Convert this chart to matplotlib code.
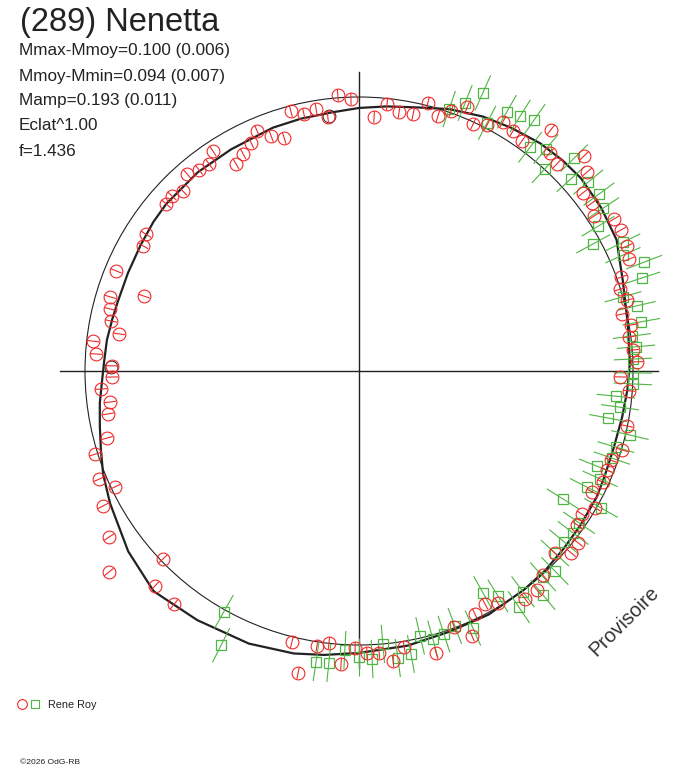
"""
Polar lightcurve of (289) Nenetta, redrawn from the reference picture.
Angles are in degrees (counter-clockwise from the right), radii are
relative to the reference circle.
"""

import numpy as np
import matplotlib
matplotlib.use("Agg")
import matplotlib.pyplot as plt
from matplotlib.patches import Circle
from matplotlib.collections import LineCollection

plt.rcParams['font.family'] = ['Liberation Sans', 'DejaVu Sans']

W, H = 688, 768
CX, CY = 359, 371      # pixel position of the origin
SCALE = 274            # pixels per unit radius

# fitted curve
curve_ang = [1.7, 10, 19, 27, 34, 41, 46, 51.5, 58, 64, 71, 77.6, 84, 90, 96,
             103, 109.5, 115, 120, 129, 139, 144, 150, 157, 164, 168, 173, 178,
             182, 187, 192, 197, 202, 208, 218, 227, 237, 248, 257, 263, 270,
             280, 289, 298, 307, 313, 319, 325, 332, 337, 343, 350, 356]
curve_r = [0.989, 0.996, 1.018, 1.055, 1.066, 1.073, 1.069, 1.062, 1.047, 1.033,
           1.011, 0.985, 0.971, 0.960, 0.949, 0.945, 0.942, 0.934, 0.934, 0.934,
           0.931, 0.927, 0.920, 0.916, 0.916, 0.920, 0.927, 0.931, 0.938, 0.953,
           0.967, 0.985, 1.007, 1.029, 1.069, 1.099, 1.084, 1.073, 1.058, 1.044,
           1.029, 1.018, 1.007, 1.007, 1.000, 0.996, 0.989, 0.985, 0.982, 0.975,
           0.971, 0.975, 0.982]

# observer 1 (red circles)
red_ang = [113.0, 110.5, 107.8, 104.7, 102.1, 99.3, 97.0, 94.4, 91.7, 86.6,
           84.0, 81.2, 78.1, 75.6, 72.8, 70.5, 67.7, 65.2, 62.5, 60.0,
           57.3, 54.7, 51.5, 48.8, 46.3, 43.7, 41.1, 38.5, 35.8, 33.4,
           30.8, 28.3, 25.0, 22.5, 19.7, 17.4, 14.8, 12.2, 9.6, 7.2,
           4.4, 1.9, -1.3, -4.2, -11.6, -16.7, -19.5, -21.8, -24.5, -27.4,
           -30.1, -32.7, -35.2, -38.1, -40.6, -42.9, -48.0, -50.9, -53.9, -59.1,
           -61.6, -64.5, -66.9, -69.6, -74.7, -80.7, -83.3, -85.9, -88.4, -90.8,
           -93.5, -96.3, -98.7, -101.4, -103.9,
           115.3, 118.1, 120.7, 123.6, 125.9, 128.5, 131.1, 134.4, 136.9, 139.1,
           147.3, 149.9, 157.6, 160.8, 163.4, 166.0, 168.6, 171.2, 173.6, 176.3,
           178.8, 181.4, 184.0, 187.1, 189.7, 194.9, 197.5, 202.6, 205.4, 207.8,
           213.6, 218.8, 223.8, 226.5, 231.6]
red_r = [0.952, 0.916, 0.893, 0.981, 0.959, 0.969, 0.934, 1.010, 0.993, 0.929,
         0.980, 0.957, 0.958, 1.010, 0.974, 1.007, 1.041, 0.993, 1.012, 1.050,
         1.041, 1.029, 1.125, 1.058, 1.045, 1.136, 1.105, 1.044, 1.048, 1.027,
         1.083, 1.086, 1.079, 1.067, 1.016, 0.998, 1.012, 0.982, 1.007, 0.993,
         1.003, 1.015, 0.953, 0.988, 0.998, 1.002, 0.975, 0.975, 0.978, 0.958,
         0.996, 0.967, 0.974, 1.016, 1.020, 0.976, 1.003, 1.030, 1.029, 0.987,
         0.967, 0.983, 1.051, 0.997, 1.067, 1.021, 1.066, 1.032, 1.030, 1.011,
         1.071, 0.999, 1.015, 1.124, 1.019,
         0.921, 0.898, 0.879, 0.964, 0.933, 0.938, 0.954, 0.919, 0.935, 0.931,
         0.924, 0.911, 0.959, 0.831, 0.948, 0.937, 0.923, 0.886, 0.977, 0.962,
         0.902, 0.902, 0.944, 0.916, 0.929, 0.952, 1.010, 1.027, 0.986, 1.056,
         1.095, 1.171, 0.991, 1.082, 1.086]
red_err = 0.022

# observer 2 (green squares)
green_ang = [71.0, 68.4, 66.0, 62.7, 60.3, 57.7, 55.1, 52.6, 49.9, 47.4,
             44.7, 42.2, 39.5, 36.4, 33.7, 31.2, 28.5, 26.0, 23.7, 20.9,
             18.2, 15.7, 13.2, 9.9, 7.3, 5.0, 2.5, -0.4, -2.7, -5.6,
             -7.9, -10.7, -13.3, -16.5, -19.0, -21.8, -24.1, -27.0, -32.1, -29.5,
             -34.6, -37.1, -39.8, -42.9, -45.6, -48.2, -53.4, -50.6, -58.3, -60.8,
             -55.9, -98.4, -95.9, -92.9, -90.0, -87.4, -85.0, -82.3, -79.6, -77.0,
             -74.6, -72.1, -69.4, -66.1, -119.3, -116.7]
green_r = [1.011, 1.052, 1.111, 1.019, 1.089, 1.101, 1.117, 1.028, 1.059, 1.002,
           1.105, 1.044, 1.084, 1.088, 1.071, 1.020, 0.972, 1.072, 1.052, 1.114,
           1.087, 1.001, 1.042, 1.045, 1.004, 1.015, 1.001, 1.000, 1.001, 0.942,
           0.962, 0.925, 1.016, 0.978, 0.976, 0.935, 0.964, 0.934, 0.879, 1.015,
           0.976, 0.980, 0.974, 0.976, 1.022, 1.008, 1.004, 1.058, 0.965, 0.928,
           1.041, 1.074, 1.071, 1.020, 1.044, 1.052, 1.000, 1.057, 1.050, 0.992,
           1.015, 1.009, 0.994, 1.026, 1.008, 1.120]
green_err = 0.07

# a couple of black points
black_ang = [96.7, 179.0]
black_r = [0.937, 0.905]

RED = '#ee2a2a'
GREEN = '#4fb543'
INK = '#222222'


def to_xy(ang, r):
    a = np.radians(ang)
    r = np.asarray(r)
    return r * np.cos(a), r * np.sin(a)


def radial_segments(ang, r, err):
    a = np.radians(ang)
    r = np.asarray(r)
    x0, y0 = (r - err) * np.cos(a), (r - err) * np.sin(a)
    x1, y1 = (r + err) * np.cos(a), (r + err) * np.sin(a)
    return [[(p, q), (s, t)] for p, q, s, t in zip(x0, y0, x1, y1)]


fig = plt.figure(figsize=(W / 100, H / 100), dpi=100)
ax = fig.add_axes([0, 0, 1, 1])
ax.set_xlim(-CX / SCALE, (W - CX) / SCALE)
ax.set_ylim(-(H - CY) / SCALE, CY / SCALE)
ax.set_aspect('equal')
ax.axis('off')

# cross and reference circle
ax.plot([-1.09, 1.09], [0, 0], color=INK, lw=1.0)
ax.plot([0, 0], [-1.085, 1.09], color=INK, lw=1.0)
ax.add_patch(Circle((0, 0), 1.0, fill=False, ec=INK, lw=0.8))

# fitted curve (closed)
cx, cy = to_xy(curve_ang + curve_ang[:1], curve_r + curve_r[:1])
ax.plot(cx, cy, color=INK, lw=1.6, solid_joinstyle='round')

# data
ax.add_collection(LineCollection(radial_segments(green_ang, green_r, green_err),
                                 colors=GREEN, linewidths=0.8))
gx, gy = to_xy(green_ang, green_r)
ax.plot(gx, gy, 's', mfc='none', mec=GREEN, ms=7.3, mew=0.9)

bx, by = to_xy(black_ang, black_r)
ax.plot(bx, by, 'o', mfc='none', mec=INK, ms=9.2, mew=0.7)

ax.add_collection(LineCollection(radial_segments(red_ang, red_r, red_err),
                                 colors=RED, linewidths=0.8))
rx, ry = to_xy(red_ang, red_r)
ax.plot(rx, ry, 'o', mfc='none', mec=RED, ms=9.2, mew=0.8)

# texts
fig.text(20 / W, 1 - 22 / H, '(289) Nenetta', fontsize=23.5, color=INK, va='center')
stats = ['Mmax-Mmoy=0.100 (0.006)', 'Mmoy-Mmin=0.094 (0.007)',
         'Mamp=0.193 (0.011)', 'Eclat^1.00', 'f=1.436']
for i, s in enumerate(stats):
    fig.text(19 / W, 1 - (51 + 25 * i) / H, s, fontsize=12.3, color=INK, va='center')

fig.text(624 / W, 1 - 621 / H, 'Provisoire', fontsize=14.5, color='#333333',
         rotation=45, ha='center', va='center')

# legend
fig.lines.append(plt.Line2D([22 / W], [1 - 704 / H], marker='o', mfc='none',
                            mec=RED, ms=7, mew=0.8, transform=fig.transFigure))
fig.lines.append(plt.Line2D([35 / W], [1 - 704 / H], marker='s', mfc='none',
                            mec=GREEN, ms=5.5, mew=0.8, transform=fig.transFigure))
fig.text(48 / W, 1 - 705 / H, 'Rene Roy', fontsize=7.8, color=INK, va='center')
fig.text(20 / W, 1 - 763 / H, '©2026 OdG-RB', fontsize=6.1, color=INK, va='center')

fig.savefig('out.png', dpi=100)
